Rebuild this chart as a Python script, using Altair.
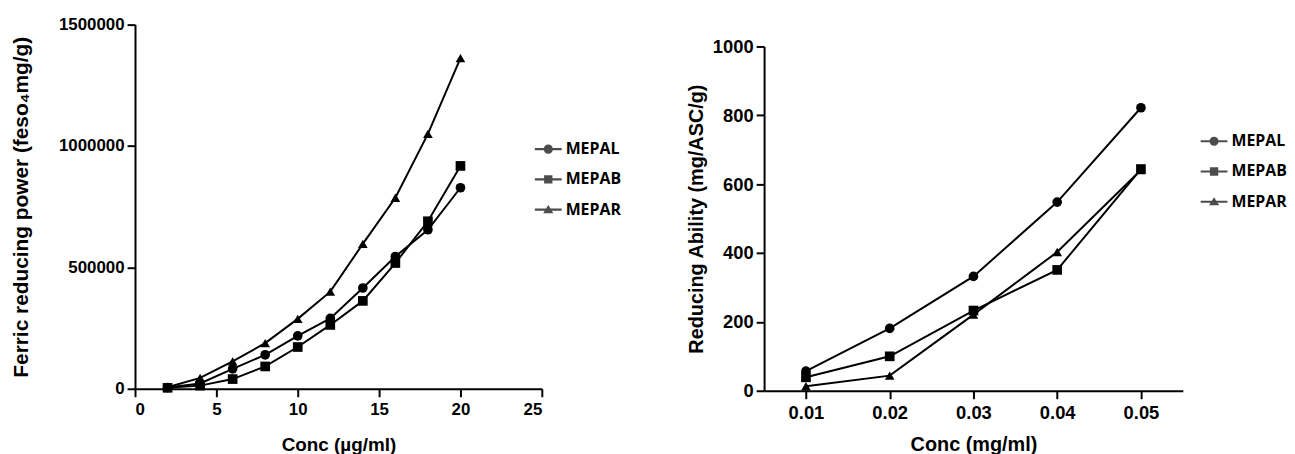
import altair as alt
import pandas as pd

series = ["MEPAL", "MEPAB", "MEPAR"]

conc1 = [2, 4, 6, 8, 10, 12, 14, 16, 18, 20]
mepal1 = [5000, 22000, 82000, 140000, 218000, 290000, 415000, 545000, 655000, 828000]
mepab1 = [4000, 13000, 40000, 92000, 172000, 263000, 362000, 518000, 690000, 918000]
mepar1 = [6000, 45000, 113000, 188000, 288000, 400000, 597000, 787000, 1050000, 1362000]

conc2 = [0.01, 0.02, 0.03, 0.04, 0.05]
mepal2 = [57, 181, 332, 548, 822]
mepab2 = [39, 100, 233, 351, 644]
mepar2 = [13, 44, 221, 403, 641]

left_ticks_x = [0, 5, 10, 15, 20, 25]
left_ticks_y = [0, 500000, 1000000, 1500000]
right_ticks_x = [0.01, 0.02, 0.03, 0.04, 0.05]
right_ticks_y = [0, 200, 400, 600, 800, 1000]


def frame(xs, groups):
    rows = []
    for name, vals in zip(series, groups):
        for x, v in zip(xs, vals):
            rows.append({"conc": x, "value": v, "series": name})
    return pd.DataFrame(rows)


df1 = frame(conc1, [mepal1, mepab1, mepar1])
df2 = frame(conc2, [mepal2, mepab2, mepar2])

marker_shapes = ["circle", "square", "triangle-up"]
BAR = "M-1,-0.08H1V0.08H-1Z"
legend_paths = [
    BAR + "M0.34,0A0.34,0.34,0,1,1,-0.34,0A0.34,0.34,0,1,1,0.34,0Z",
    BAR + "M-0.31,-0.31H0.31V0.31H-0.31Z",
    BAR + "M0,-0.34L0.38,0.26H-0.38Z",
]

FONT = "Liberation Sans"


def panel(df, xdom, xticks, ydom, yticks, xtitle, ytitle, w, h, yrange,
          lab_size, xt_size, yt_size, ytpad, xtpad, lx, ly, xfmt, yfmt):
    xenc = alt.X("conc:Q", scale=alt.Scale(domain=xdom, nice=False, zero=False),
                 axis=alt.Axis(values=xticks, format=xfmt, title=xtitle,
                               titleFontSize=xt_size, labelFontSize=lab_size,
                               labelPadding=5, titlePadding=xtpad))
    yscale = alt.Scale(domain=ydom, nice=False)
    if yrange is not None:
        yscale = alt.Scale(domain=ydom, nice=False, range=yrange)
    yenc = alt.Y("value:Q", scale=yscale,
                 axis=alt.Axis(values=yticks, format=yfmt, title=ytitle,
                               titleFontSize=yt_size, labelFontSize=lab_size,
                               labelPadding=3, titlePadding=ytpad))
    base = alt.Chart(df)
    lines = base.mark_line(color="black", strokeWidth=2).encode(
        x=xenc, y=yenc, detail="series:N", order="conc:Q")
    pts = base.mark_point(filled=True, color="black", size=95, opacity=1).encode(
        x="conc:Q", y="value:Q",
        shape=alt.Shape("series:N", scale=alt.Scale(domain=series, range=marker_shapes),
                        legend=None))
    leg = base.transform_filter(alt.datum.value < -1).mark_point(
        filled=True, color="black", size=95).encode(
        x="conc:Q", y="value:Q",
        shape=alt.Shape("series:N", scale=alt.Scale(domain=series, range=legend_paths),
                        sort=series,
                        legend=alt.Legend(title=None, orient="none", legendX=lx, legendY=ly,
                                          symbolSize=729, symbolFillColor="black",
                                          symbolStrokeColor="black", symbolStrokeWidth=0,
                                          labelFont="Open Sans", labelFontWeight="bold",
                                          labelFontSize=16, labelColor="black",
                                          labelOffset=4, rowPadding=8.5)))
    return alt.layer(lines, pts, leg).resolve_scale(shape="independent").properties(
        width=w, height=h)


left = panel(df1, [0, 25], left_ticks_x, [0, 1500000], left_ticks_y,
             "Conc (\u00b5g/ml)", "Ferric reducing power (feso\u2084mg/g)",
             410, 367, None, 17, 19, 21, 27, 18, 403, 112, "d", "d")
right = panel(df2, [0.005, 0.055], right_ticks_x, [0, 1000], right_ticks_y,
              "Conc (mg/ml)", "Reducing Ability (mg/ASC/g)",
              422, 369, [369, 22], 18.5, 20, 20, 6, 13, 440, 104, ".2f", "d")

chart = alt.hconcat(left, right, spacing=65).configure_view(stroke=None).configure_axis(
    domainColor="black", domainWidth=2, tickColor="black", tickWidth=2, tickSize=8,
    labelColor="black", titleColor="black", labelFont=FONT, titleFont=FONT,
    labelFontWeight="bold", titleFontWeight="bold", grid=False
).properties(padding={"left": 2, "top": 6, "right": 0, "bottom": 0})

chart.save("out.html", embed_options={"renderer": "svg", "actions": False})
